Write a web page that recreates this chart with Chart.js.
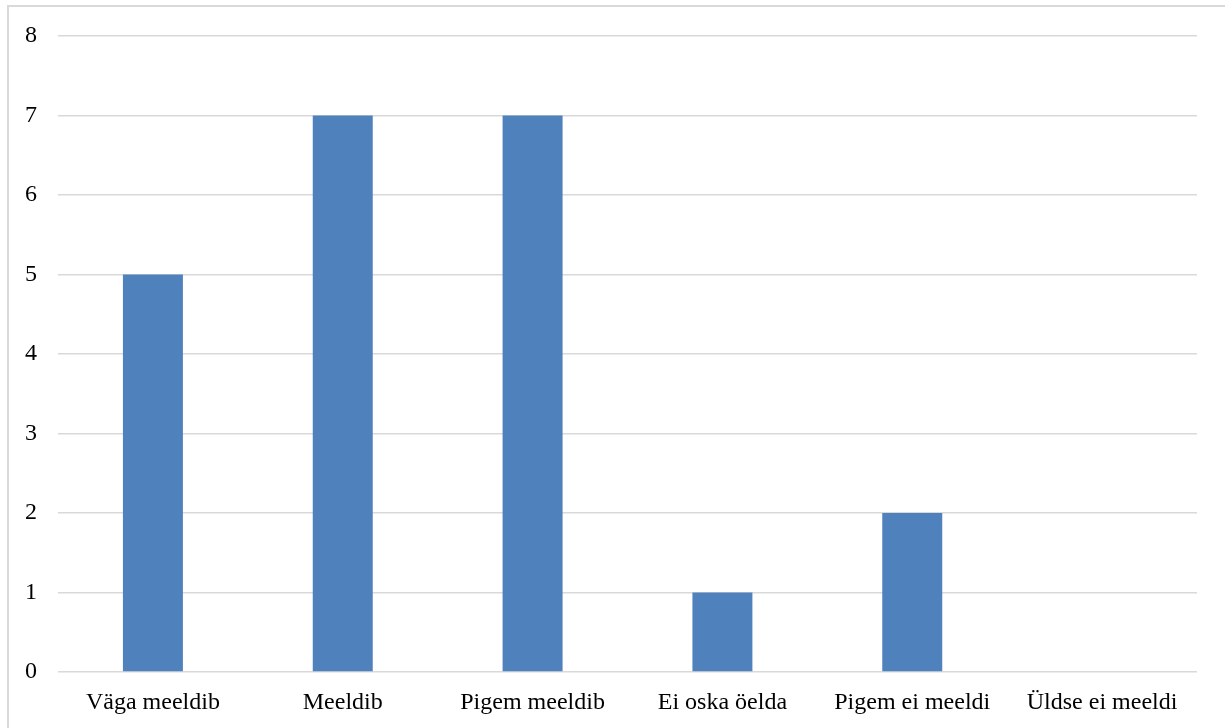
<!DOCTYPE html>
<html>
<head>
<meta charset="utf-8">
<script src="https://cdn.jsdelivr.net/npm/chart.js@4"></script>
<style>
  body { margin: 0; background: #fff; }
  #frame { position: absolute; left: 7px; top: 5px; width: 1300px; height: 800px; border: 2px solid #d9d9d9; }
  #wrap { position: absolute; left: 0; top: 0; width: 1225px; height: 728px; }
</style>
</head>
<body>
<div id="frame"></div>
<div id="wrap"><canvas id="grafico"></canvas></div>
<script>
const kategooriad = ["Väga meeldib", "Meeldib", "Pigem meeldib", "Ei oska öelda", "Pigem ei meeldi", "Üldse ei meeldi"];
const vastused = [5, 7, 7, 1, 2, 0];
const yMin = 0;
const yMax = 8;
const ySamm = 1;

const grafico = document.querySelector("#grafico");
Chart.defaults.font.family = "'Liberation Serif', 'Times New Roman', serif";
Chart.defaults.color = "#000";

const graf = new Chart(grafico, {
  type: "bar",
  data: {
    labels: kategooriad,
    datasets: [{
      data: vastused,
      backgroundColor: "#4f81bd",
      barPercentage: 0.316,
      categoryPercentage: 1,
    }],
  },
  options: {
    responsive: true,
    maintainAspectRatio: false,
    animation: false,
    layout: { padding: { left: 0, top: 36, right: 28, bottom: 0 } },
    plugins: {
      legend: { display: false },
      tooltip: { enabled: false },
    },
    scales: {
      x: {
        grid: { display: false },
        border: { display: false },
        ticks: { font: { size: 24 }, padding: 8, maxRotation: 0 },
        afterFit: (axis) => { axis.height = 56; },
      },
      y: {
        min: yMin,
        max: yMax,
        ticks: { stepSize: ySamm, font: { size: 24 }, padding: 21 },
        grid: { color: "#d9d9d9", lineWidth: 1.5, drawTicks: false },
        border: { display: false },
        afterFit: (axis) => { axis.width = 58; },
      },
    },
  },
});
</script>
</body>
</html>
